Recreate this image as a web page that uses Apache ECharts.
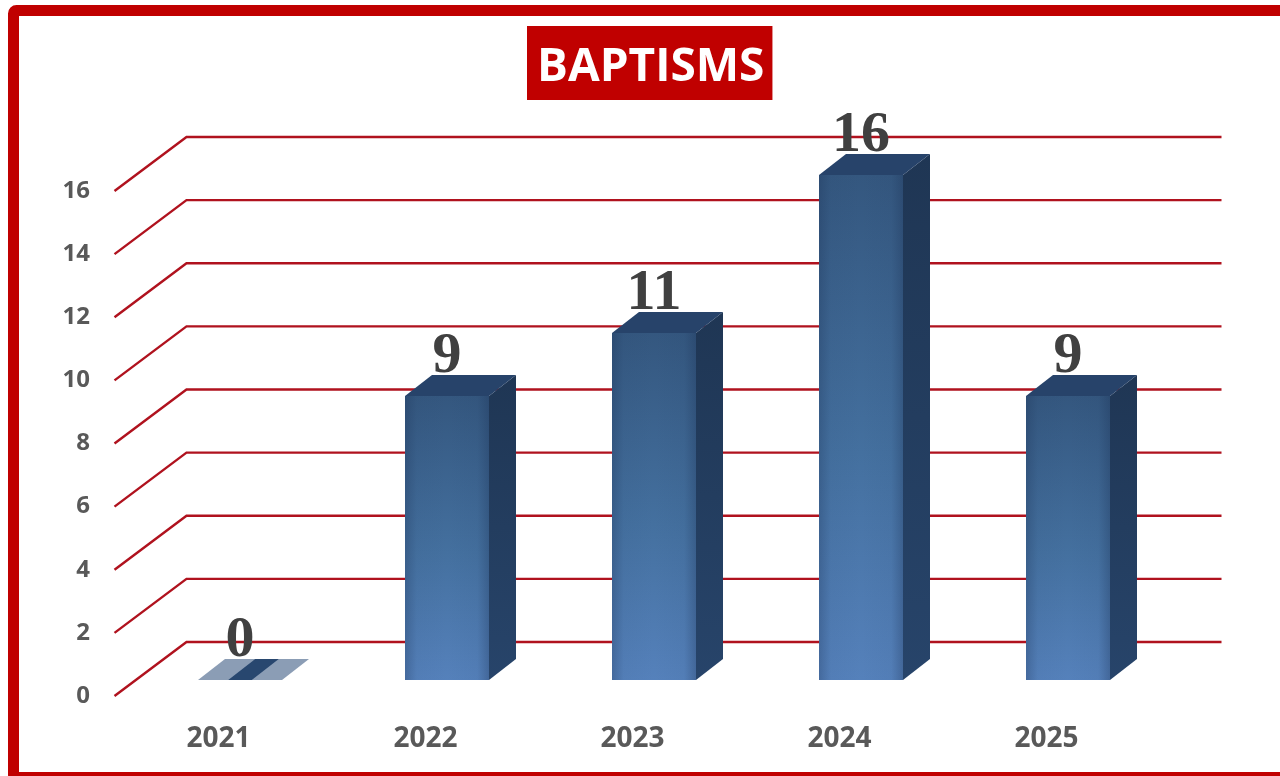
<!DOCTYPE html>
<html>
<head>
<meta charset="utf-8">
<style>html,body{margin:0;padding:0;background:#fff;}#c{width:1280px;height:776px;}</style>
<script src="https://cdn.jsdelivr.net/npm/echarts@6/dist/echarts.min.js"></script>
</head>
<body>
<div id="c"></div>
<script>
const categories = ['2021', '2022', '2023', '2024', '2025'];
const baptisms = [0, 9, 11, 16, 9];
const yTicks = [0, 2, 4, 6, 8, 10, 12, 14, 16];
const titleText = 'BAPTISMS';

const WALL_DX = 72, WALL_DY = -54;   // back wall offset from the front plane
const FLOOR_DX = 21.5, FLOOR_DY = -16; // bars stand mid-way in the depth
const BAR_DX = 27, BAR_DY = -21;     // bar depth
const BAR_RATIO = 0.405;

const linear = (x, y, x2, y2, stops) => ({
  type: 'linear', x, y, x2, y2,
  colorStops: stops.map(s => ({ offset: s[0], color: s[1] }))
});
const poly = (points, fill) => ({ type: 'polygon', shape: { points }, style: { fill } });

function renderWall(params, api) {
  const p = api.coord([0, api.value(1)]);
  const x0 = params.coordSys.x - 0.5, x1 = x0 + params.coordSys.width;
  return {
    type: 'polyline',
    silent: true,
    shape: { points: [[x0, p[1]], [x0 + WALL_DX, p[1] + WALL_DY], [x1 + WALL_DX, p[1] + WALL_DY]] },
    style: { stroke: '#b0121e', lineWidth: 2.4, fill: 'none' }
  };
}

function renderBar(params, api) {
  const v = api.value(1);
  const top = api.coord([api.value(0), v]);
  const base = api.coord([api.value(0), 0]);
  const w0 = api.size([1, 0])[0] * BAR_RATIO;
  const l = Math.round(top[0] + FLOOR_DX - w0 / 2), r = Math.round(top[0] + FLOOR_DX + w0 / 2);
  const w = r - l;
  const t = Math.round(top[1] + FLOOR_DY), b = Math.round(base[1] + FLOOR_DY);
  const children = [];
  if (v > 0) {
    children.push(
      { type: 'rect', shape: { x: l, y: t, width: w, height: b - t },
        style: { fill: linear(0, 0, 0, 1, [[0, '#34577f'], [0.55, '#44709f'], [1, '#5581bb']]) } },
      { type: 'rect', shape: { x: l, y: t, width: w, height: b - t },
        style: { fill: linear(0, 0, 1, 0, [[0, 'rgba(25,45,80,0.28)'], [0.14, 'rgba(25,45,80,0.04)'], [0.5, 'rgba(25,45,80,0)'], [0.86, 'rgba(25,45,80,0.04)'], [1, 'rgba(25,45,80,0.3)']]) } },
      poly([[r, t], [r + BAR_DX, t + BAR_DY], [r + BAR_DX, b + BAR_DY], [r, b]],
        linear(0, 0, 0, 1, [[0, '#1f3654'], [1, '#27446a']])),
      poly([[l, t], [l + BAR_DX, t + BAR_DY], [r + BAR_DX, t + BAR_DY], [r, t]], '#27436a')
    );
  } else {
    const s0 = l + w * 0.36, s1 = l + w * 0.64;
    children.push(
      poly([[l, b], [l + BAR_DX, b + BAR_DY], [r + BAR_DX, b + BAR_DY], [r, b]], '#8b9db5'),
      poly([[s0, b], [s0 + BAR_DX, b + BAR_DY], [s1 + BAR_DX, b + BAR_DY], [s1, b]], '#28476f')
    );
  }
  children.push({
    type: 'text',
    z2: 10,
    style: {
      text: String(v),
      x: l + w / 2,
      y: t - 10,
      align: 'center',
      verticalAlign: 'bottom',
      fill: '#404040',
      font: 'bold 58px "Liberation Serif"'
    }
  });
  return { type: 'group', silent: true, children };
}

const chart = echarts.init(document.getElementById('c'), null, { renderer: 'canvas', width: 1280, height: 776 });
chart.setOption({
  animation: false,
  backgroundColor: '#ffffff',
  title: {
    text: titleText,
    left: 527,
    top: 26,
    padding: [19, 8, 9, 10],
    backgroundColor: '#c00000',
    textStyle: {
      color: '#ffffff',
      fontFamily: '"Open Sans"',
      fontWeight: 'bold',
      fontSize: 46,
      lineHeight: 46
    }
  },
  grid: { left: 115, width: 1035, top: 191, height: 505 },
  xAxis: {
    type: 'category',
    data: categories,
    axisLine: { show: false },
    axisTick: { show: false },
    axisLabel: { margin: 29, color: '#595959', fontFamily: '"Open Sans"', fontWeight: 'bold', fontSize: 28 }
  },
  yAxis: {
    type: 'value',
    min: 0,
    max: 16,
    interval: 2,
    axisLine: { show: false },
    axisTick: { show: false },
    splitLine: { show: false },
    axisLabel: { margin: 25, padding: [5, 0, 0, 0], color: '#595959', fontFamily: '"Open Sans"', fontWeight: 'bold', fontSize: 24 }
  },
  graphic: [{
    type: 'rect',
    z: -1,
    silent: true,
    shape: { x: 13.5, y: 10.5, width: 1300, height: 767, r: 3 },
    style: { fill: 'none', stroke: '#c00000', lineWidth: 11 }
  }],
  series: [
    { type: 'custom', name: 'wall', clip: false, z: 1, renderItem: renderWall,
      data: yTicks.map(v => [0, v]), encode: { x: 0, y: 1 } },
    { type: 'custom', name: 'Baptisms', clip: false, z: 2, renderItem: renderBar,
      data: baptisms.map((v, i) => [i, v]), encode: { x: 0, y: 1 } }
  ]
});
</script>
</body>
</html>
